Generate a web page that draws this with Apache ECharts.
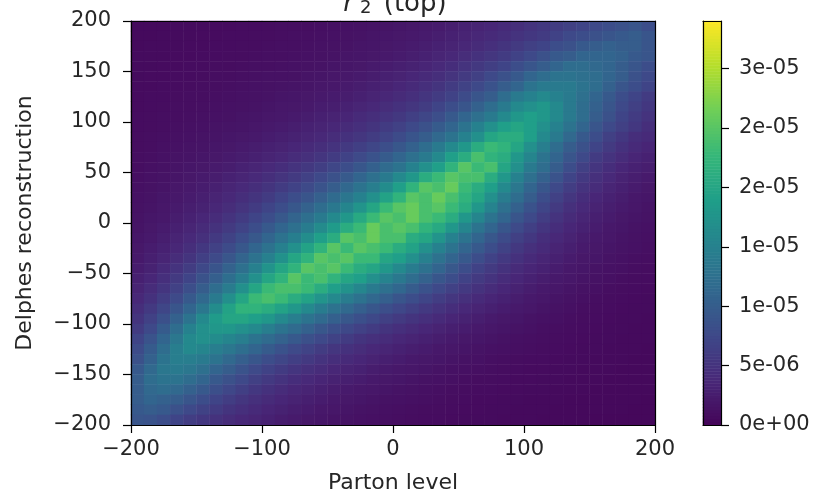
<!DOCTYPE html>
<html><head><meta charset="utf-8">
<style>html,body{margin:0;padding:0;background:#fff}#c{width:814px;height:496px;filter:blur(0.7px)}</style>
<script src="https://cdn.jsdelivr.net/npm/echarts@6/dist/echarts.min.js"></script>
</head><body><div id="c"></div>
<script>
// density in units of 1e-6; rows run top (y=195) to bottom (y=-195), columns x=-195..195
const densityRows = [
[.5,.5,.5,.6,.6,.6,.7,.7,.8,.8,.9,1,1,1,1.1,1.2,1.3,1.4,1.5,1.6,1.8,2,2.2,2.4,2.7,3,3.3,3.6,4,4.5,5,5.5,6,6.5,7,7.5,8,8.5,9,8],
[.5,.5,.6,.6,.6,.7,.7,.8,.8,.9,.9,1,1.1,1.1,1.2,1.3,1.4,1.5,1.7,1.8,2,2.2,2.4,2.7,3,3.3,3.7,4,4.5,5,5.5,6,6.8,7.5,8,8.5,9,9.5,10,9],
[.5,.6,.6,.6,.7,.7,.8,.8,.9,.9,1,1.1,1.1,1.2,1.3,1.4,1.5,1.7,1.8,2,2.2,2.4,2.7,3,3.3,3.7,4.1,4.6,5.2,5.8,6.5,7,8,8.5,9.5,10,10.5,10,10,9],
[.6,.6,.6,.7,.7,.8,.8,.9,.9,1,1.1,1.1,1.2,1.3,1.4,1.5,1.7,1.8,2,2.2,2.4,2.7,3,3.4,3.8,4.3,4.8,5.4,6,6.8,7.5,8.5,9.5,10,11,11,11,10.5,9.5,9],
[.6,.6,.7,.7,.8,.8,.9,.9,1,1.1,1.1,1.2,1.3,1.4,1.5,1.7,1.8,2,2.3,2.5,2.8,3.1,3.5,3.9,4.4,5,5.6,6.3,7,8,9,10,11,12,12,11.5,11,10,9,8],
[.6,.7,.7,.8,.8,.9,1,1,1.1,1.2,1.3,1.3,1.4,1.6,1.7,1.9,2.1,2.3,2.6,2.9,3.2,3.6,4,4.5,5.1,5.8,6.5,7.5,8.5,9.5,11,12,13,13,12.5,12,11,10,8.5,7.5],
[.7,.7,.8,.8,.9,1,1,1.1,1.2,1.3,1.4,1.5,1.6,1.7,1.9,2.1,2.3,2.6,2.9,3.2,3.6,4,4.6,5.2,5.9,6.7,7.6,8.7,10,11,13,14,14,14,13,12,10.5,9,8,7],
[.7,.8,.8,.9,1,1,1.1,1.2,1.3,1.4,1.5,1.7,1.8,2,2.2,2.4,2.6,2.9,3.3,3.7,4.1,4.6,5.3,6,6.8,7.8,9,10,12,14,15,16,15,14,12.5,11,9.5,8,7,6],
[.7,.8,.9,1,1,1.1,1.2,1.3,1.4,1.5,1.7,1.9,2,2.2,2.5,2.7,3,3.4,3.8,4.3,4.8,5.4,6.1,7,8,9,10.5,12,14,16,17,18,16,14,12,10.5,9,7.5,6.5,5.5],
[.8,.9,1,1,1.1,1.2,1.3,1.4,1.6,1.7,1.9,2.1,2.3,2.6,2.9,3.2,3.5,4,4.5,5,5.6,6.4,7.2,8.2,9.5,11,12.5,14,16,18,19,18,16,14,12,10,8.5,7,6,5],
[.8,.9,1,1.1,1.2,1.3,1.5,1.6,1.7,1.9,2.2,2.4,2.7,3,3.3,3.7,4.1,4.6,5.2,5.9,6.6,7.5,8.5,9.8,11,13,15,17,19,20,19,17,15,13,11,9,7.5,6.5,5.5,4.5],
[.9,1,1.1,1.2,1.3,1.5,1.6,1.8,2,2.2,2.5,2.8,3.1,3.4,3.8,4.3,4.8,5.4,6.1,6.9,7.8,8.9,10,11.5,13,15,17,20,21,21,19,16,14,11.5,9.5,8,6.5,5.5,4.5,4],
[.9,1,1.2,1.3,1.5,1.6,1.8,2,2.3,2.6,2.9,3.2,3.6,4,4.5,5,5.7,6.4,7.2,8.2,9.3,10.5,12,14,16,18,21,23,22,20,17,14.5,12,10,8.5,7,5.8,4.8,4,3.5],
[1,1.1,1.3,1.5,1.6,1.8,2,2.3,2.6,2.9,3.3,3.7,4.2,4.7,5.3,6,6.8,7.7,8.7,9.8,11,12.5,14,16,19,21,24,22,21,18,15.5,13,11,9,7.5,6,5,4.2,3.5,3],
[1,1.2,1.4,1.6,1.8,2,2.3,2.6,3,3.4,3.9,4.4,5,5.6,6.3,7.2,8.1,9.2,10.4,11.8,13,15,17,19,22,25,23,24,20,17,14,12,10,8,6.5,5.3,4.4,3.6,3,2.7],
[1.1,1.3,1.5,1.7,2,2.3,2.6,3,3.4,3.9,4.5,5.1,5.8,6.6,7.5,8.5,9.6,11,12.5,14,16,18,21,23,25,24,24,21,18,15,12.5,10.5,8.8,7,5.7,4.7,3.9,3.2,2.7,2.3],
[1.2,1.4,1.6,1.9,2.2,2.5,2.9,3.4,3.9,4.5,5.2,6,6.8,7.7,8.8,10,11.3,13,14.5,16.5,19,22,25,24,26,23,21,19,16,13.5,11,9.2,7.6,6.2,5,4.2,3.4,2.9,2.4,2],
[1.3,1.5,1.8,2.1,2.4,2.8,3.3,3.8,4.5,5.2,6,7,8,9,10.3,11.7,13.3,15,17,19.5,22,25,24,26,24,22,20,17,14.2,12,10,8,6.6,5.4,4.4,3.6,3,2.6,2.1,1.8],
[1.4,1.6,1.9,2.3,2.7,3.1,3.7,4.3,5.1,6,7,8,9.3,10.6,12,13.7,15.5,17.5,20,23,25,26,24,25,23,21,18,15.2,12.5,10.5,8.7,7.1,5.8,4.7,3.9,3.2,2.7,2.3,1.9,1.6],
[1.5,1.8,2.1,2.6,3,3.6,4.2,5,5.9,7,8.1,9.4,10.8,12.3,14,16,18,20.5,23,25,24,26,24,23,21,18,15.5,13,11,9,7.5,6.2,5,4.1,3.4,2.8,2.4,2,1.7,1.5],
[1.6,2,2.4,2.9,3.4,4.1,4.9,5.8,6.9,8.1,9.5,11,12.5,14.3,16.3,18.5,21,23,26,24,25,24,22,20.5,18,15.5,13,11,9.2,7.7,6.4,5.3,4.4,3.6,3,2.5,2.1,1.8,1.5,1.3],
[1.8,2.2,2.7,3.3,3.9,4.7,5.7,6.7,8,9.4,11,12.8,14.6,16.6,19,21,25,24,26,24,24,21,20,17.5,15,13,11,9.3,7.8,6.5,5.5,4.5,3.8,3.2,2.6,2.2,1.9,1.6,1.4,1.2],
[2,2.5,3,3.7,4.5,5.5,6.6,7.8,9.3,11,12.8,14.8,17,19.5,22,25,23,25,24,23,21,19.5,17,15,13,11,9.5,8,6.7,5.6,4.7,4,3.3,2.8,2.3,2,1.7,1.5,1.3,1.1],
[2.2,2.8,3.4,4.3,5.2,6.4,7.7,9.1,10.8,12.8,14.8,17.2,20,22,25,24,25,23,23,20,19,17,14.8,12.8,11,9.5,8,6.8,5.7,4.8,4,3.4,2.9,2.4,2,1.8,1.5,1.3,1.1,1],
[2.5,3.1,4,5,6.1,7.4,8.9,10.6,12.5,14.8,17.4,20,22,25,24,25,23,21,20,18,16,14.3,12.6,11,9.4,8,6.8,5.8,4.9,4.1,3.5,3,2.5,2.1,1.8,1.5,1.3,1.2,1,.9],
[2.9,3.6,4.6,5.8,7,8.6,10.2,12.2,14.4,17,20,22,25,23,24,22,20,19,17,15.3,13.6,12,10.6,9.2,8,6.8,5.8,5,4.2,3.6,3,2.6,2.2,1.9,1.6,1.4,1.2,1,.9,.8],
[3.3,4.2,5.3,6.6,8.2,10,12,14.2,17,20,23,24,24,23,21,19,17.3,15.6,14,12.5,11.2,9.9,8.7,7.6,6.6,5.7,4.9,4.2,3.6,3.1,2.6,2.2,1.9,1.6,1.4,1.2,1,.9,.8,.7],
[3.8,4.8,6.2,7.7,9.5,11.5,14,16.8,20,23,24,23,21,19.5,17.5,16,14.2,12.8,11.4,10.2,9,8,7.1,6.2,5.4,4.7,4,3.5,3,2.6,2.2,1.9,1.6,1.4,1.2,1,.9,.8,.7,.6],
[4.5,5.7,7.2,9,11,13.5,16.5,19.5,22,22,21,19.5,18,16,14.3,12.8,11.5,10.2,9.2,8.2,7.3,6.5,5.7,5,4.4,3.8,3.3,2.9,2.5,2.2,1.9,1.6,1.4,1.2,1,.9,.8,.7,.6,.6],
[5.2,6.6,8.4,10.5,13,16,18.5,20,20,19,18,16,14.5,13,11.6,10.4,9.3,8.3,7.4,6.5,5.8,5.2,4.6,4,3.5,3.1,2.7,2.3,2,1.8,1.5,1.3,1.2,1,.9,.8,.7,.6,.6,.5],
[6,7.6,9.8,12,15,17,18,18,17,16,14.5,13,11.7,10.5,9.3,8.3,7.4,6.6,5.9,5.2,4.6,4.1,3.6,3.2,2.8,2.5,2.2,1.9,1.7,1.5,1.3,1.1,1,.9,.8,.7,.6,.6,.5,.5],
[7,8.8,11,13.5,16,17,16.5,15.5,14.5,13,11.8,10.6,9.5,8.4,7.5,6.7,5.9,5.2,4.7,4.2,3.7,3.3,2.9,2.6,2.3,2,1.8,1.6,1.4,1.2,1.1,1,.9,.8,.7,.6,.6,.5,.5,.5],
[7.8,9.8,12,14.5,16,15.5,14.5,13.5,12.2,11,9.8,8.7,7.7,6.9,6.1,5.4,4.8,4.3,3.8,3.4,3,2.7,2.4,2.1,1.9,1.7,1.5,1.3,1.2,1.1,1,.9,.8,.7,.6,.6,.5,.5,.5,.4],
[8.5,10.5,13,14.5,14.5,14,13,11.5,10.2,9.2,8.1,7.2,6.4,5.7,5,4.5,4,3.6,3.2,2.8,2.5,2.2,2,1.8,1.6,1.4,1.3,1.1,1,.9,.8,.8,.7,.6,.6,.5,.5,.5,.4,.4],
[9.5,11.5,13.5,14,13.5,12.5,11,10,8.8,7.7,6.8,6,5.3,4.7,4.2,3.7,3.3,3,2.6,2.3,2.1,1.9,1.7,1.5,1.3,1.2,1.1,1,.9,.8,.7,.7,.6,.6,.5,.5,.5,.4,.4,.4],
[10,12,13,13,12,11,9.5,8.5,7.5,6.5,5.7,5,4.4,3.9,3.5,3.1,2.8,2.5,2.2,2,1.8,1.6,1.4,1.3,1.2,1,.9,.9,.8,.7,.7,.6,.6,.5,.5,.5,.4,.4,.4,.4],
[10,11.5,12,11.5,10.5,9.5,8.3,7.3,6.4,5.5,4.8,4.2,3.7,3.3,2.9,2.6,2.3,2.1,1.9,1.7,1.5,1.4,1.2,1.1,1,.9,.8,.8,.7,.7,.6,.6,.5,.5,.5,.4,.4,.4,.4,.4],
[10,11,10.5,10,9,8,7,6.2,5.4,4.7,4.1,3.6,3.2,2.8,2.5,2.2,2,1.8,1.6,1.4,1.3,1.2,1.1,1,.9,.8,.7,.7,.6,.6,.5,.5,.5,.4,.4,.4,.4,.4,.4,.3],
[9.5,10,9.5,8.5,7.5,6.7,5.9,5.2,4.6,4,3.5,3.1,2.7,2.4,2.1,1.9,1.7,1.5,1.4,1.2,1.1,1,.9,.9,.8,.7,.7,.6,.6,.5,.5,.5,.4,.4,.4,.4,.4,.4,.3,.3],
[9,8.8,8,7,6.2,5.5,4.9,4.3,3.8,3.4,3,2.6,2.3,2,1.8,1.6,1.5,1.3,1.2,1.1,1,.9,.8,.8,.7,.6,.6,.6,.5,.5,.5,.4,.4,.4,.4,.3,.3,.3,.3,.3]
];
const xCenters = densityRows[0].map((_, i) => -195 + 10 * i);
const yCenters = densityRows.map((_, i) => 195 - 10 * i).reverse();
const viridis = ['#450559','#482878','#3e4989','#31688e','#26828e','#1f9e89','#35b779','#6ece58','#b5de2b','#fde725'];
const xyTicks = [-200, -100, 0, 100, 200];
const barTicks = [0, 5, 10, 15, 20, 25, 30];
const barTickLabels = ['0e+00','5e-06','1e-05','1e-05','2e-05','2e-05','3e-05'];
const barMax = 34;
const barLevels = Array.from({length: 136}, (_, i) => (i + 0.5) * barMax / 136);

const heatData = [];
densityRows.forEach((row, r) => row.forEach((v, c) => heatData.push([c, densityRows.length - 1 - r, v])));
const barData = barLevels.map((v, i) => [0, i, v]);

const ink = '#000', txt = '#262626', fs = 21, nfs = 22, tfs = 26;
const family = '"DejaVu Sans"';
const minusFmt = v => String(v).replace('-', '\u2212');
const frameLine = {show: true, onZero: false, lineStyle: {color: ink, width: 1.2}};
const valAxisCommon = {
  type: 'value', axisLine: frameLine,
  axisTick: {show: true, length: 8, lineStyle: {color: ink, width: 1.2}},
  splitLine: {show: false}, z: 5
};
const chart = echarts.init(document.getElementById('c'), null, {renderer: 'canvas'});
chart.setOption({
  animation: false, backgroundColor: '#fff',
  title: {
    left: 390, top: -14, textAlign: 'center',
    text: '{i|r}{s|2} (top)',
    textStyle: {fontFamily: family, fontSize: tfs, fontWeight: 'normal', color: txt,
      rich: {i: {fontFamily: family, fontStyle: 'italic', fontSize: tfs, color: txt}, s: {fontFamily: family, fontSize: 18, color: txt, verticalAlign: 'bottom', padding: [7, 4, 0, 6]}}}
  },
  grid: [
    {left: 131, top: 21, width: 524, height: 404, outerBoundsMode: 'none'},
    {left: 703, top: 21, width: 18, height: 404, outerBoundsMode: 'none'}
  ],
  xAxis: [
    {gridIndex: 0, type: 'category', data: xCenters, position: 'top', axisLine: frameLine, axisTick: {show: false}, axisLabel: {show: false}, z: 5},
    {gridIndex: 0, ...valAxisCommon, min: -200, max: 200, interval: 100, position: 'bottom',
      name: 'Parton level', nameLocation: 'middle', nameGap: 47, nameTextStyle: {fontFamily: family, fontSize: nfs, color: txt},
      axisLabel: {fontFamily: family, fontSize: fs, color: txt, margin: 14, formatter: v => xyTicks.includes(v) ? minusFmt(v) : ''}},
    {gridIndex: 1, type: 'category', data: [0], position: 'top', axisLine: frameLine, axisTick: {show: false}, axisLabel: {show: false}, z: 5},
    {gridIndex: 1, ...valAxisCommon, min: 0, max: 1, position: 'bottom', axisTick: {show: false}, axisLabel: {show: false}}
  ],
  yAxis: [
    {gridIndex: 0, type: 'category', data: yCenters, position: 'right', axisLine: frameLine, axisTick: {show: false}, axisLabel: {show: false}, z: 5},
    {gridIndex: 0, ...valAxisCommon, min: -200, max: 200, interval: 50, position: 'left',
      name: 'Delphes reconstruction', nameLocation: 'middle', nameGap: 95, nameRotate: 90, nameTextStyle: {fontFamily: family, fontSize: nfs, color: txt},
      axisLabel: {fontFamily: family, fontSize: fs, color: txt, margin: 20, formatter: minusFmt}},
    {gridIndex: 1, type: 'category', data: barLevels, position: 'left', axisLine: frameLine, axisTick: {show: false}, axisLabel: {show: false}, z: 5},
    {gridIndex: 1, ...valAxisCommon, min: 0, max: barMax, position: 'right',
      axisTick: {show: true, length: 8, customValues: barTicks, lineStyle: {color: ink, width: 1.2}},
      axisLabel: {fontFamily: family, fontSize: fs, color: txt, margin: 18, customValues: barTicks, formatter: v => barTickLabels[barTicks.indexOf(v)]}}
  ],
  visualMap: {show: false, type: 'continuous', min: 0, max: barMax, seriesIndex: [0, 1], dimension: 2, inRange: {color: viridis}},
  series: [
    {type: 'heatmap', xAxisIndex: 0, yAxisIndex: 0, data: heatData, progressive: 0, silent: true, emphasis: {disabled: true}},
    {type: 'heatmap', xAxisIndex: 2, yAxisIndex: 2, data: barData, progressive: 0, silent: true, emphasis: {disabled: true}}
  ]
});
</script></body></html>
